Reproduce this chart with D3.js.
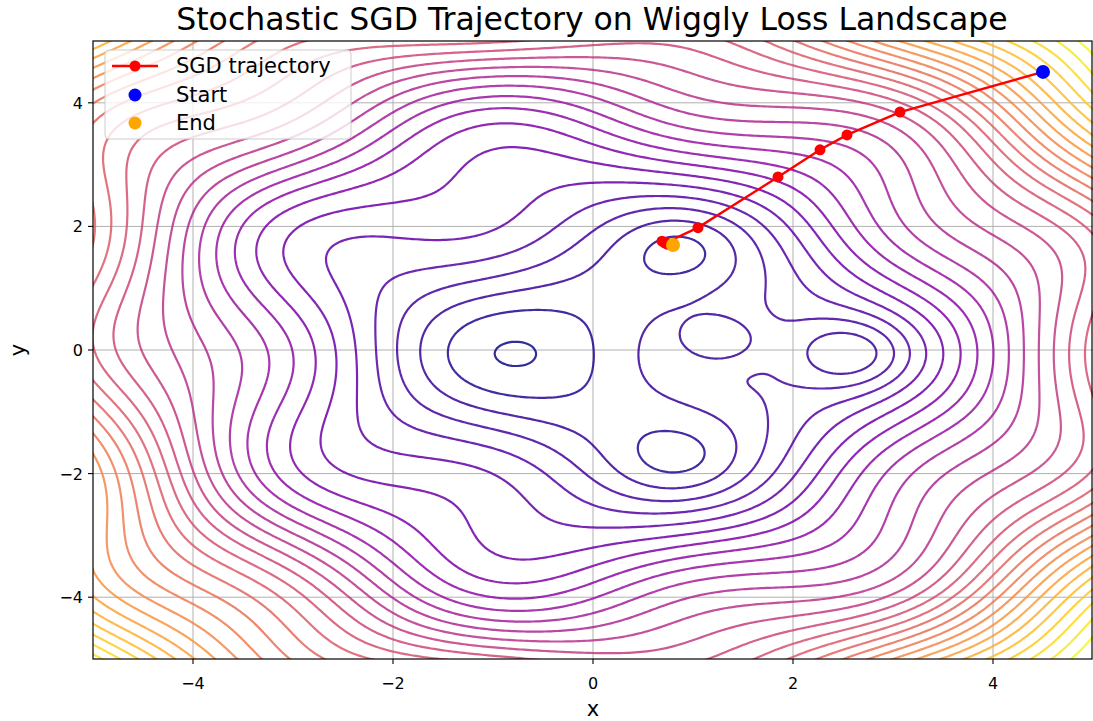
<!DOCTYPE html>
<html><head><meta charset="utf-8">
<script src="https://cdn.jsdelivr.net/npm/d3@7"></script>
<style>
body{margin:0;background:#fff}
svg{display:block}
text{font-family:"DejaVu Sans",sans-serif;fill:#000}
</style>
</head><body>
<svg id="chart" width="1093" height="721"></svg>
<script>
// ---------- data ----------
const xTicks = [-4, -2, 0, 2, 4];
const yTicks = [-4, -2, 0, 2, 4];
const xDomain = [-5, 5];
const yDomain = [-5, 5];
// loss landscape: bowl + tilt + wiggle + local wells / bumps (positions)
const bowlWeights = [0.7, 0.7];
const tiltY = 0.15;
const wiggleAmp = 2.0;
const wiggleFreq = [1.5, 1.65];
const wigglePhaseY = 0.1;
// positive depth = well, negative depth = bump
const wellX = [-0.88, 0.88, 0.82, 1.28, 2.58, -5.5, -6.0, 5.8, 5.8];
const wellY = [-0.10, 1.68, -1.80, 0.16, -0.05, 5.5, -1.5, -5.8, 5.8];
const wellDepth = [0.14, 1.3, 1.2, 2.84, 3.1, 6.0, -5.5, -5.0, -3.0];
const wellWidth = [0.4, 0.4, 0.4, 0.28, 0.4, 2.2, 2.0, 2.2, 2.2];
// contour levels
const levels = [-1.30,0.05,1.40,2.75,4.10,5.45,6.80,8.15,9.50,10.85,12.20,13.55,14.90,
  16.25,17.60,18.95,20.30,21.65,23.00,24.35,25.70,27.05,28.40,29.75,31.10,32.45,33.80,35.15,
  36.50,37.85,39.20,40.55];
// SGD trajectory
const sgdX = [4.50, 3.07, 2.54, 2.27, 1.85, 1.05, 0.72, 0.69, 0.75, 0.73, 0.80];
const sgdY = [4.50, 3.85, 3.48, 3.24, 2.80, 1.98, 1.73, 1.76, 1.71, 1.74, 1.70];
const title = "Stochastic SGD Trajectory on Wiggly Loss Landscape";
const legendLabels = ["SGD trajectory", "Start", "End"];

// ---------- chart ----------
const svg = d3.select("#chart");
const L = 93, R = 1093, T = 41, B = 659;
const xs = d3.scaleLinear().domain(xDomain).range([L, R]);
const ys = d3.scaleLinear().domain(yDomain).range([B, T]);

function loss(x, y) {
  let v = bowlWeights[0]*x*x + bowlWeights[1]*y*y + tiltY*y
        + wiggleAmp*Math.sin(wiggleFreq[0]*x)*Math.cos(wiggleFreq[1]*y + wigglePhaseY);
  for (let k = 0; k < wellX.length; k++) {
    const dx = x - wellX[k], dy = y - wellY[k];
    v -= wellDepth[k]*Math.exp(-(dx*dx + dy*dy)/(2*wellWidth[k]*wellWidth[k]));
  }
  return v;
}

const n = 361, g0 = -5.4, g1 = 5.4, gs = (g1 - g0)/(n - 1);
const vals = new Float64Array(n*n);
let vmin = Infinity, vmax = -Infinity;
for (let j = 0; j < n; j++) {
  const y = g0 + j*gs;
  for (let i = 0; i < n; i++) {
    const x = g0 + i*gs, v = loss(x, y);
    vals[j*n + i] = v;
    if (x >= -5 && x <= 5 && y >= -5 && y <= 5) { vmin = Math.min(vmin, v); vmax = Math.max(vmax, v); }
  }
}
const used = levels.filter(l => l > vmin && l < vmax);
const cNorm = d3.scaleLinear().domain([used[0], used[used.length-1]]).range([0, 1]);

svg.append("defs").append("clipPath").attr("id", "clip")
  .append("rect").attr("x", L).attr("y", T).attr("width", R - L).attr("height", B - T);

// grid
const grid = svg.append("g");
grid.selectAll(".gx").data(xTicks).join("line")
  .attr("x1", d => xs(d)).attr("x2", d => xs(d)).attr("y1", T).attr("y2", B)
  .attr("stroke", "#b0b0b0").attr("stroke-width", 1);
grid.selectAll(".gy").data(yTicks).join("line")
  .attr("y1", d => ys(d)).attr("y2", d => ys(d)).attr("x1", L).attr("x2", R)
  .attr("stroke", "#b0b0b0").attr("stroke-width", 1);

// contours
const contours = d3.contours().size([n, n]).thresholds(used)(vals);
const proj = d3.geoTransform({
  point(u, v) { this.stream.point(xs(g0 + (u - 0.5)*gs), ys(g0 + (v - 0.5)*gs)); }
});
const path = d3.geoPath(proj);
svg.append("g").attr("clip-path", "url(#clip)")
  .selectAll("path").data(contours).join("path")
  .attr("d", path)
  .attr("fill", "none")
  .attr("stroke", d => d3.interpolatePlasma(cNorm(d.value)))
  .attr("stroke-width", 2.2)
  .attr("stroke-opacity", 0.85);

// trajectory
const traj = svg.append("g");
const pts = sgdX.map((x, i) => [xs(x), ys(sgdY[i])]);
traj.append("path").attr("d", d3.line()(pts))
  .attr("fill", "none").attr("stroke", "#ff0000").attr("stroke-width", 2.4);
traj.selectAll("circle.p").data(pts).join("circle")
  .attr("cx", d => d[0]).attr("cy", d => d[1]).attr("r", 5.5).attr("fill", "#ff0000");
traj.append("circle").attr("cx", xs(sgdX[0])).attr("cy", ys(sgdY[0])).attr("r", 7).attr("fill", "#0000ff");
traj.append("circle").attr("cx", xs(sgdX[sgdX.length-1])).attr("cy", ys(sgdY[sgdY.length-1])).attr("r", 7).attr("fill", "#ffa500");

// spines
svg.append("rect").attr("x", L).attr("y", T).attr("width", R - L - 1).attr("height", B - T)
  .attr("fill", "none").attr("stroke", "#000").attr("stroke-width", 1.2);

// axes
const fmt = d => (d < 0 ? "\u2212" : "") + Math.abs(d);
const ax = svg.append("g");
ax.selectAll(".xt").data(xTicks).join("line")
  .attr("x1", d => xs(d)).attr("x2", d => xs(d)).attr("y1", B).attr("y2", B + 5)
  .attr("stroke", "#000").attr("stroke-width", 1.1);
ax.selectAll(".xl").data(xTicks).join("text")
  .attr("x", d => xs(d)).attr("y", B + 30).attr("text-anchor", "middle")
  .attr("font-size", 16).text(fmt);
ax.selectAll(".yt").data(yTicks).join("line")
  .attr("y1", d => ys(d)).attr("y2", d => ys(d)).attr("x1", L - 5).attr("x2", L)
  .attr("stroke", "#000").attr("stroke-width", 1.1);
ax.selectAll(".yl").data(yTicks).join("text")
  .attr("x", L - 10).attr("y", d => ys(d) + 6).attr("text-anchor", "end")
  .attr("font-size", 16).text(fmt);
svg.append("text").attr("x", (L + R)/2).attr("y", 716).attr("text-anchor", "middle")
  .attr("font-size", 21).text("x");
svg.append("text").attr("transform", `translate(25,${(T + B)/2}) rotate(-90)`)
  .attr("text-anchor", "middle").attr("font-size", 21).text("y");
svg.append("text").attr("x", 592).attr("y", 30).attr("text-anchor", "middle")
  .attr("font-size", 31.5).text(title);

// legend
const lg = svg.append("g");
lg.append("rect").attr("x", 105).attr("y", 50).attr("width", 246).attr("height", 89).attr("rx", 4)
  .attr("fill", "#fff").attr("fill-opacity", 0.8).attr("stroke", "#cccccc");
lg.append("line").attr("x1", 112).attr("x2", 158).attr("y1", 66).attr("y2", 66)
  .attr("stroke", "#ff0000").attr("stroke-width", 2.4);
lg.append("circle").attr("cx", 135).attr("cy", 66).attr("r", 5.5).attr("fill", "#ff0000");
lg.append("circle").attr("cx", 135).attr("cy", 95).attr("r", 6.5).attr("fill", "#0000ff");
lg.append("circle").attr("cx", 135).attr("cy", 123).attr("r", 6.5).attr("fill", "#ffa500");
legendLabels.forEach((t, i) => {
  lg.append("text").attr("x", 176).attr("y", 73 + i*28.5).attr("font-size", 21).text(t);
});
</script>
</body></html>
